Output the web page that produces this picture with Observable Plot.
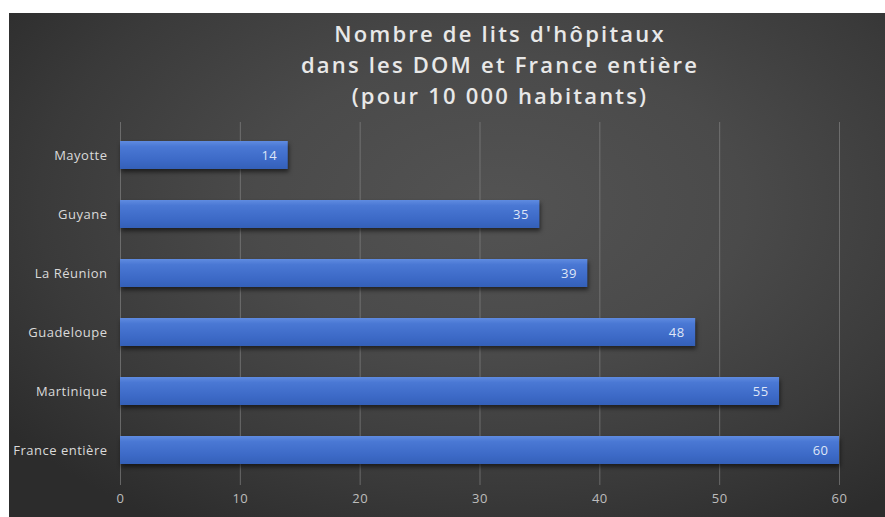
<!DOCTYPE html>
<html>
<head>
<meta charset="utf-8">
<script src="https://cdn.jsdelivr.net/npm/d3@7"></script>
<script src="https://cdn.jsdelivr.net/npm/@observablehq/plot@0.6"></script>
<style>
  html, body { margin: 0; padding: 0; background: #ffffff; }
  #frame {
    position: absolute; left: 9px; top: 13px; width: 876px; height: 504px;
    background: radial-gradient(ellipse 70% 75% at 56% 38%, #535353 0%, #4a4a4a 40%, #3a3a3a 75%, #2c2c2c 100%);
    overflow: hidden;
  }
  #title {
    position: absolute; left: 191px; top: 5px; width: 600px;
    text-align: center; color: #e8e8e8;
    font-family: "Open Sans", sans-serif; font-weight: 600; font-size: 22px;
    line-height: 31px; letter-spacing: 2.2px;
  }
  #chart { position: absolute; left: 0; top: 108px; }
  #chart g[aria-label="bar"] { filter: drop-shadow(1px 3px 2px rgba(0,0,0,0.55)); }
  #chart text { letter-spacing: 0.5px; }
</style>
</head>
<body>
<div id="frame">
  <div id="title">Nombre de lits d'hôpitaux<br>dans les DOM et France entière<br>(pour 10 000 habitants)</div>
  <div id="chart"></div>
</div>
<script>
const categories = ["Mayotte", "Guyane", "La Réunion", "Guadeloupe", "Martinique", "France entière"];
const values = [14, 35, 39, 48, 55, 60];
const xTicks = [0, 10, 20, 30, 40, 50, 60];

const data = categories.map((c, i) => ({ name: c, value: values[i] }));

const plot = Plot.plot({
  width: 876,
  height: 396,
  marginLeft: 111,
  marginRight: 46,
  marginTop: 1,
  marginBottom: 32,
  style: { background: "transparent", fontFamily: "'Open Sans', sans-serif", fontSize: "13px", overflow: "visible" },
  x: { domain: [0, 60], ticks: xTicks, label: null },
  y: { domain: categories, range: [17, 345], paddingInner: 0.533, paddingOuter: 0, label: null },
  marks: [
    Plot.ruleX(xTicks, { stroke: "#8a8a8a", strokeOpacity: 0.6, strokeWidth: 1 }),
    Plot.barX(data, { x: "value", y: "name", fill: "url(#barGrad)" }),
    Plot.text(data, { x: "value", y: "name", text: d => String(d.value), textAnchor: "end", dx: -11, fill: "#dfe6f7", fontSize: 13 }),
    Plot.axisX({ ticks: xTicks, tickSize: 0, tickPadding: 8, fill: "#bdbdbd", fontSize: 13, label: null }),
    Plot.axisY({ tickSize: 0, tickPadding: 13, fill: "#dadada", fontSize: 13, label: null })
  ]
});

const ns = "http://www.w3.org/2000/svg";
const defs = document.createElementNS(ns, "defs");
defs.innerHTML = `<linearGradient id="barGrad" x1="0" y1="0" x2="0" y2="1">
  <stop offset="0%" stop-color="#5f8be0"/>
  <stop offset="20%" stop-color="#4a78d4"/>
  <stop offset="70%" stop-color="#3c69c6"/>
  <stop offset="100%" stop-color="#3460b8"/>
</linearGradient>`;
plot.insertBefore(defs, plot.firstChild);
document.getElementById("chart").appendChild(plot);
</script>
</body>
</html>
